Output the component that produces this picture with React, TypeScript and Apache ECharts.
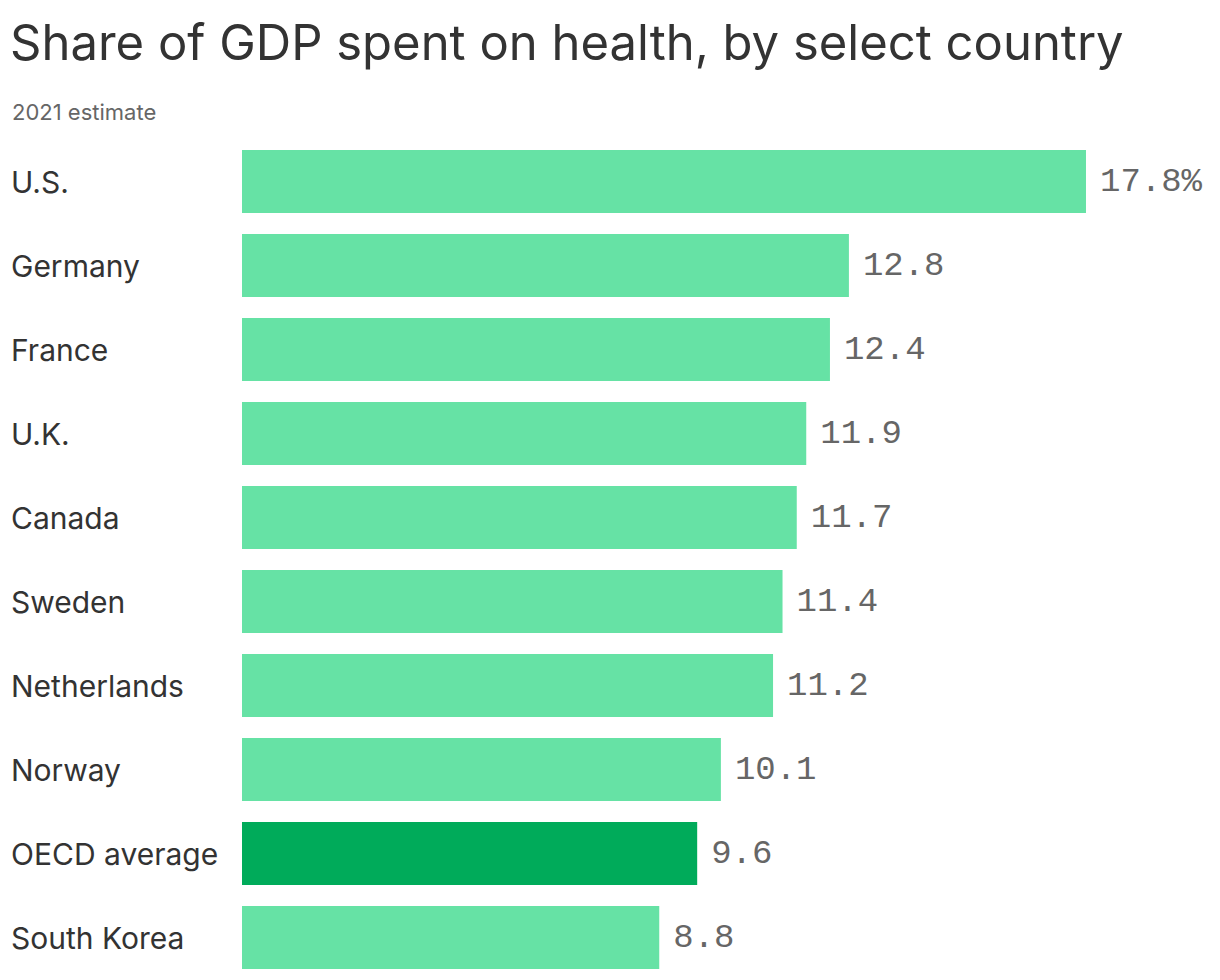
import React, { useEffect, useRef } from "react";
import * as echarts from "echarts";

const countries = ["U.S.", "Germany", "France", "U.K.", "Canada", "Sweden", "Netherlands", "Norway", "OECD average", "South Korea"];
const shares = [17.8, 12.8, 12.4, 11.9, 11.7, 11.4, 11.2, 10.1, 9.6, 8.8];
const highlight = "OECD average";

const LIGHT = "#66e2a5";
const DARK = "#00ab5a";

export default function App() {
  const ref = useRef<HTMLDivElement>(null);
  useEffect(() => {
    document.body.style.margin = "0";
    const chart = echarts.init(ref.current!, null, { renderer: "svg" });
    const data = countries.map((c, i) => ({
      value: shares[i],
      itemStyle: { color: c === highlight ? DARK : LIGHT },
      label: { formatter: i === 0 ? shares[i].toFixed(1) + "%" : shares[i].toFixed(1) },
    }));
    chart.setOption({
      animation: false,
      title: [
        {
          text: "Share of GDP spent on health, by select country",
          left: 5,
          top: 13,
          textStyle: { fontFamily: "Inter", fontSize: 49, fontWeight: 400, color: "#333333" },
        },
        {
          text: "2021 estimate",
          left: 7,
          top: 96,
          textStyle: { fontFamily: "Inter", fontSize: 22, fontWeight: 400, color: "#666666" },
        },
      ],
      grid: { left: 242, top: 139.5, height: 840, right: 29.7 },
      xAxis: { type: "value", min: 0, max: 20, show: false },
      yAxis: {
        type: "category",
        data: countries,
        inverse: true,
        axisLine: { show: false },
        axisTick: { show: false },
        axisLabel: {
          align: "left",
          margin: 231,
          padding: [0, 0, 6, 0],
          fontFamily: "Inter",
          fontSize: 30,
          color: "#333333",
        },
      },
      series: [
        {
          type: "bar",
          data,
          barWidth: 63,
          label: {
            show: true,
            position: "right",
            distance: 14,
            fontFamily: "Liberation Mono",
            fontSize: 34,
            color: "#666666",
          },
        },
      ],
    });
    return () => chart.dispose();
  }, []);
  return <div ref={ref} style={{ width: 1220, height: 980 }} />;
}
